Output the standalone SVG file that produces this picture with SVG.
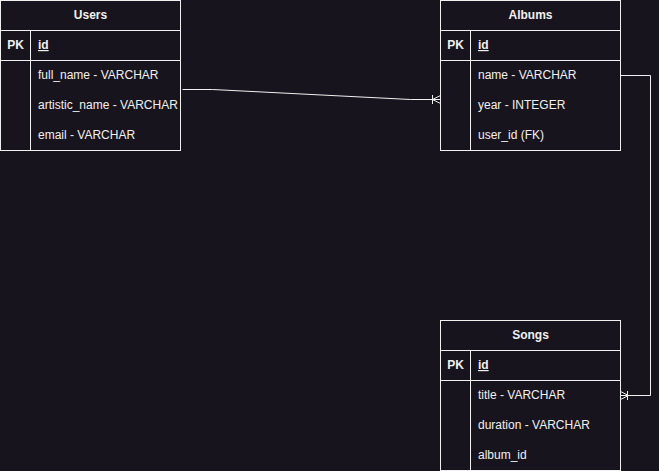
<svg xmlns="http://www.w3.org/2000/svg" width="659" height="471" viewBox="0 0 659 471">
<style>
.box{fill:#18141d;stroke:#f0f0f0;stroke-width:1}
.ln{stroke:#f0f0f0;stroke-width:1;fill:none}
.t{font-family:"Liberation Sans",Arial,sans-serif;font-size:12px;fill:#f0f0f0}
.b{font-weight:bold}
.c{text-anchor:middle}
.con{stroke:#f0f0f0;stroke-width:1;fill:none}
</style>
<rect x="0" y="0" width="659" height="471" fill="#18141d"/>
<g id="users">
<rect class="box" x="0.5" y="0.5" width="180" height="150"/>
<line class="ln" x1="0.5" y1="30.5" x2="180.5" y2="30.5"/>
<line class="ln" x1="0.5" y1="60.5" x2="180.5" y2="60.5"/>
<line class="ln" x1="30.5" y1="30.5" x2="30.5" y2="150.5"/>
<text class="t b c" x="90.5" y="19">Users</text>
<text class="t b c" x="15.5" y="49">PK</text>
<text class="t b" x="38" y="49" text-decoration="underline">id</text>
<text class="t" x="38" y="79">full_name - VARCHAR</text>
<text class="t" x="38" y="109">artistic_name - VARCHAR</text>
<text class="t" x="38" y="139">email - VARCHAR</text>
</g>
<g id="albums">
<rect class="box" x="440.5" y="0.5" width="180" height="150"/>
<line class="ln" x1="440.5" y1="30.5" x2="620.5" y2="30.5"/>
<line class="ln" x1="440.5" y1="60.5" x2="620.5" y2="60.5"/>
<line class="ln" x1="470.5" y1="30.5" x2="470.5" y2="150.5"/>
<text class="t b c" x="530.5" y="19">Albums</text>
<text class="t b c" x="455.5" y="49">PK</text>
<text class="t b" x="478" y="49" text-decoration="underline">id</text>
<text class="t" x="478" y="79">name - VARCHAR</text>
<text class="t" x="478" y="109">year - INTEGER</text>
<text class="t" x="478" y="139">user_id (FK)</text>
</g>
<g id="songs">
<rect class="box" x="440.5" y="320.5" width="180" height="150"/>
<line class="ln" x1="440.5" y1="350.5" x2="620.5" y2="350.5"/>
<line class="ln" x1="440.5" y1="380.5" x2="620.5" y2="380.5"/>
<line class="ln" x1="470.5" y1="350.5" x2="470.5" y2="470.5"/>
<text class="t b c" x="530.5" y="339">Songs</text>
<text class="t b c" x="455.5" y="369">PK</text>
<text class="t b" x="478" y="369" text-decoration="underline">id</text>
<text class="t" x="478" y="399">title - VARCHAR</text>
<text class="t" x="478" y="429">duration - VARCHAR</text>
<text class="t" x="478" y="459">album_id</text>
</g>
<g id="connectors">
<path class="con" d="M182.5 89.5 L212.5 89.5 L410.5 99.5 L440.5 99.5"/>
<path class="con" d="M432.5 95 L432.5 104 M440.5 95.5 L432.5 99.5 L440.5 103.5"/>
<path class="con" d="M620.5 75.5 L650.5 75.5 L650.5 395.5 L620.5 395.5"/>
<path class="con" d="M627.5 391 L627.5 400 M620.5 391.5 L628.5 395.5 L620.5 399.5"/>
</g>
</svg>
